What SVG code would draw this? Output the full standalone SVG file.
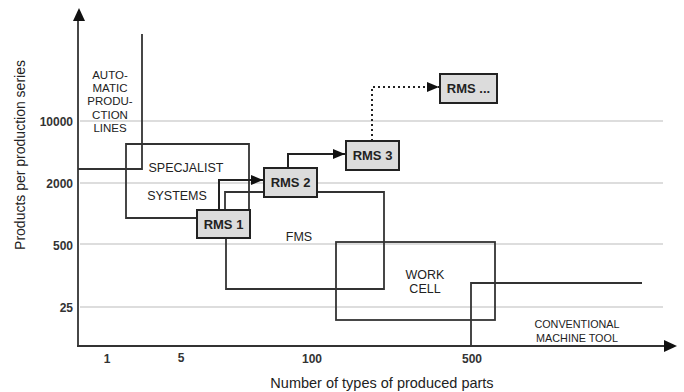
<svg xmlns="http://www.w3.org/2000/svg" width="684" height="392" viewBox="0 0 684 392">
<style>
text{font-family:"Liberation Sans",Arial,sans-serif;fill:#222}
.lbl{font-size:12.5px;text-anchor:middle}
.al{font-size:11.5px;text-anchor:middle}
.cv{font-size:10.8px;text-anchor:middle}
.tick{font-size:12px;font-weight:bold;fill:#333}
.grid{stroke:#bbb;stroke-width:1.2;fill:none}
.ln{stroke:#333;stroke-width:1.8;fill:none}
.box{fill:#dcdcdc;stroke:#222;stroke-width:2}
.bt{font-size:13px;font-weight:bold;text-anchor:middle}
.conn{stroke:#222;stroke-width:2;fill:none}
</style>
<defs>
<marker id="ah2" viewBox="0 0 10 10" refX="10" refY="5" markerWidth="12" markerHeight="10" orient="auto" markerUnits="userSpaceOnUse" preserveAspectRatio="none">
<path d="M0,0 L10,5 L0,10 z" fill="#111"/>
</marker>
</defs>
<rect width="684" height="392" fill="#fff"/>
<g id="grid">
<line class="grid" x1="80" y1="121" x2="663" y2="121"/>
<line class="grid" x1="80" y1="183" x2="663" y2="183"/>
<line class="grid" x1="80" y1="244" x2="663" y2="244"/>
<line class="grid" x1="80" y1="307" x2="663" y2="307"/>
</g>
<g id="axes">
<line class="ln" x1="78" y1="347" x2="78" y2="20"/>
<path d="M73,21 L79,8 L85,21 z" fill="#111"/>
<line class="ln" x1="77" y1="346" x2="665" y2="346"/>
<path d="M664,340 L677,346 L664,352 z" fill="#111"/>
<text class="tick" x="73" y="126" text-anchor="end">10000</text>
<text class="tick" x="73" y="188" text-anchor="end">2000</text>
<text class="tick" x="73" y="250" text-anchor="end">500</text>
<text class="tick" x="73" y="312" text-anchor="end">25</text>
<text class="tick" x="107" y="363" text-anchor="middle">1</text>
<text class="tick" x="181" y="362" text-anchor="middle">5</text>
<text class="tick" x="312" y="363" text-anchor="middle">100</text>
<text class="tick" x="472" y="363" text-anchor="middle">500</text>
<text x="382" y="388" font-size="14.5" text-anchor="middle" fill="#333">Number of types of produced parts</text>
<text transform="translate(25,155) rotate(-90)" font-size="14" text-anchor="middle" fill="#333">Products per production series</text>
</g>
<g id="automatic-lines">
<polyline class="ln" points="78,169 142,169 142,34"/>
<text class="al" x="110" y="79">AUTO-</text>
<text class="al" x="110" y="92">MATIC</text>
<text class="al" x="110" y="105">PRODU-</text>
<text class="al" x="110" y="119">CTION</text>
<text class="al" x="110" y="132">LINES</text>
</g>
<g id="specialist-systems">
<polyline class="ln" points="197,218 126,218 126,144 249,144 249,210"/>
<text class="lbl" x="186" y="172">SPECJALIST</text>
<text class="lbl" x="177" y="200">SYSTEMS</text>
</g>
<g id="fms">
<polyline class="ln" points="225,210 225,192 264,192"/>
<polyline class="ln" points="317,192 384,192 384,289 226,289 226,238"/>
<text class="lbl" x="299" y="241">FMS</text>
</g>
<g id="work-cell">
<rect class="ln" x="336" y="242" width="159" height="78"/>
<text class="lbl" x="425" y="279">WORK</text>
<text class="lbl" x="425" y="293">CELL</text>
</g>
<g id="conventional">
<polyline class="ln" points="471,346 471,283 642,283"/>
<text class="cv" x="577" y="328">CONVENTIONAL</text>
<text class="cv" x="577" y="342">MACHINE TOOL</text>
</g>
<g id="connectors">
<polyline class="conn" points="219,210 219,180 263,180" marker-end="url(#ah2)"/>
<polyline class="conn" points="288,168 288,154 345,154" marker-end="url(#ah2)"/>
<polyline class="conn" points="372,141 372,87 439,87" stroke-dasharray="2,3" marker-end="url(#ah2)"/>
</g>
<g id="rms1">
<rect class="box" x="197" y="210" width="53" height="28"/>
<text class="bt" x="223.5" y="229">RMS 1</text>
</g>
<g id="rms2">
<rect class="box" x="264" y="168" width="53" height="29"/>
<text class="bt" x="290.5" y="187">RMS 2</text>
</g>
<g id="rms3">
<rect class="box" x="346" y="141" width="53" height="29"/>
<text class="bt" x="372.5" y="160">RMS 3</text>
</g>
<g id="rms-more">
<rect class="box" x="440" y="74" width="57" height="29"/>
<text class="bt" x="468.5" y="93">RMS ...</text>
</g>
</svg>
